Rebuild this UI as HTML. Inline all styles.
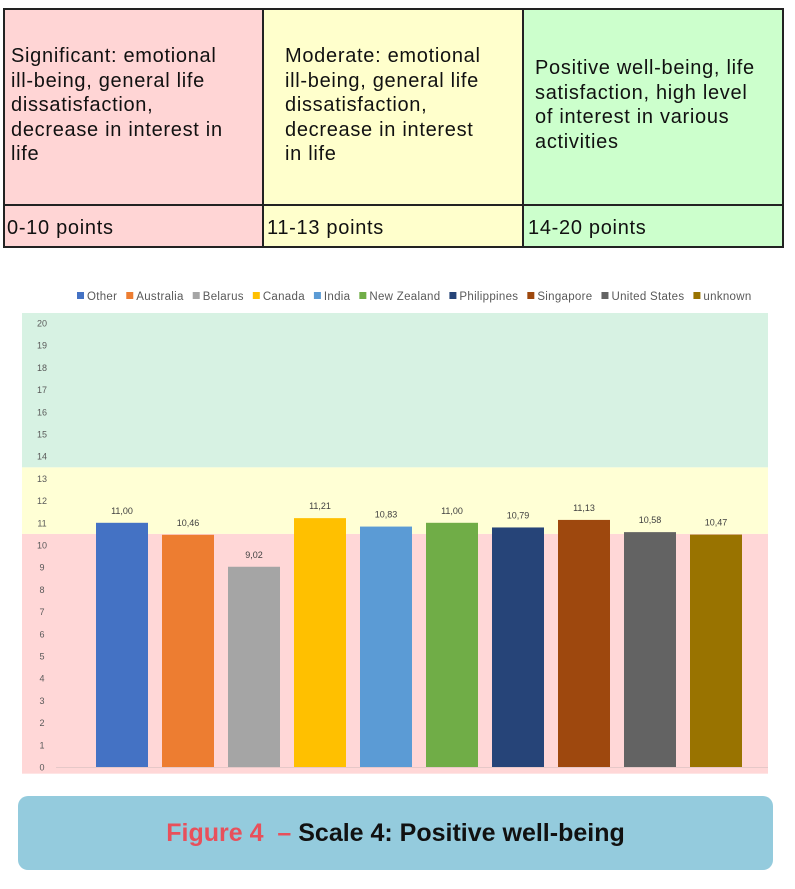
<!DOCTYPE html>
<html><head><meta charset="utf-8">
<style>
body{margin:0;width:795px;height:889px;background:#fff;position:relative;font-family:"Liberation Sans",sans-serif;overflow:hidden}
.cell{position:absolute;box-sizing:border-box;font-size:20px;letter-spacing:0.7px;color:#111;line-height:24.5px;border:2px solid #222;white-space:nowrap}
#cap{position:absolute;left:18px;top:796px;width:755px;height:74px;background:#94cbdd;border-radius:10px;text-align:center;line-height:74px;font-size:25px;font-weight:bold}
</style></head><body>
<div>
<div class="cell" style="left:3px;top:8px;width:261px;height:198px;background:#ffd5d5;padding:34px 0 0 6px">Significant: emotional<br>ill&#8209;being, general life<br>dissatisfaction,<br>decrease in interest in<br>life</div>
<div class="cell" style="left:262px;top:8px;width:262px;height:198px;background:#ffffcc;padding:34px 0 0 21px">Moderate: emotional<br>ill&#8209;being, general life<br>dissatisfaction,<br>decrease in interest<br>in life</div>
<div class="cell" style="left:522px;top:8px;width:262px;height:198px;background:#ccffcc;padding:46px 0 0 11px">Positive well-being, life<br>satisfaction, high level<br>of interest in various<br>activities</div>
<div class="cell" style="left:3px;top:204px;width:261px;height:44px;background:#ffd5d5;padding:10px 0 0 2px">0-10 points</div>
<div class="cell" style="left:262px;top:204px;width:262px;height:44px;background:#ffffcc;padding:10px 0 0 3px">11-13 points</div>
<div class="cell" style="left:522px;top:204px;width:262px;height:44px;background:#ccffcc;padding:10px 0 0 4px">14-20 points</div>
</div>
<svg id="chart" width="795" height="790" style="position:absolute;left:0;top:0" xmlns="http://www.w3.org/2000/svg"></svg>
<div id="cap"><span style="color:#e8505b">Figure 4 &nbsp;– </span><span style="color:#111">Scale 4: Positive well-being</span></div>
<script>
const categories=["Other","Australia","Belarus","Canada","India","New Zealand","Philippines","Singapore","United States","unknown"];
const values=[11.00,10.46,9.02,11.21,10.83,11.00,10.79,11.13,10.58,10.47];
const valueLabels=["11,00","10,46","9,02","11,21","10,83","11,00","10,79","11,13","10,58","10,47"];
const colors=["#4472c4","#ed7d31","#a5a5a5","#ffc000","#5b9bd5","#70ad47","#264478","#9e480e","#636363","#997300"];
const ticks=[0,1,2,3,4,5,6,7,8,9,10,11,12,13,14,15,16,17,18,19,20];
const bands=[{from:-0.3,to:10.5,color:"#ffd7d7"},{from:10.5,to:13.5,color:"#ffffd5"},{from:13.5,to:20.45,color:"#d7f2e3"}];
const NS="http://www.w3.org/2000/svg";
const svg=document.getElementById('chart');
const y=v=>767-v*22.2;
const x=i=>122+i*66;
const bw=52;
function mk(t,a){const e=document.createElementNS(NS,t);for(const k in a)e.setAttribute(k,a[k]);svg.appendChild(e);return e;}
bands.forEach((b,i)=>{
  const r=mk('rect',{x:22,y:y(b.to),width:746,height:y(b.from)-y(b.to),fill:b.color});
  
  
});
mk('line',{x1:56,x2:768,y1:767.5,y2:767.5,stroke:'#e6c8c8','stroke-width':1});
ticks.forEach(t=>{
  const e=mk('text',{x:42,y:y(t)+3.5,'text-anchor':'middle','font-size':9,fill:'#595959','font-family':'Liberation Sans, sans-serif'});
  e.textContent=t;
  
  
});
values.forEach((v,i)=>{
  const r=mk('rect',{x:x(i)-bw/2,y:y(v),width:bw,height:y(0)-y(v),fill:colors[i]});
  
  
  const t=mk('text',{x:x(i),y:y(v)-9,'text-anchor':'middle','font-size':9,fill:'#404040','font-family':'Liberation Sans, sans-serif'});
  t.textContent=valueLabels[i];
  
  
});
let lx=77;
categories.forEach((c,i)=>{
  const s=mk('rect',{x:lx,y:292,width:7,height:7,fill:colors[i]});
  
  
  const t=mk('text',{x:lx+10,y:300,'font-size':11.5,fill:'#595959','font-family':'Liberation Sans, sans-serif','letter-spacing':0.3});
  t.textContent=c;
  
  
  lx+=10+t.getComputedTextLength()+9;
});
</script>
</body></html>
